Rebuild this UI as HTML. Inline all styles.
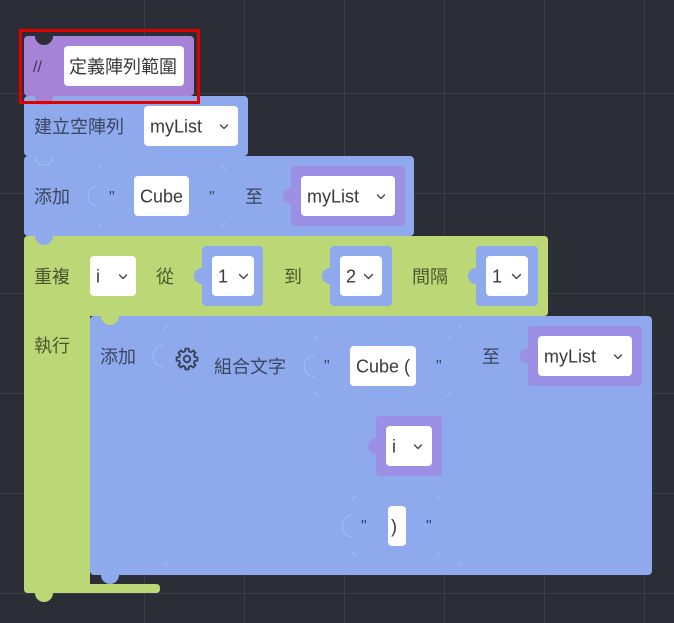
<!DOCTYPE html>
<html><head><meta charset="utf-8">
<style>
html,body{margin:0;padding:0;background:#2b2e36;width:674px;height:623px;overflow:hidden}
svg{display:block}
text{font-family:"Liberation Sans","Noto Sans CJK TC",sans-serif;font-size:18px}
.lb{fill:#000;fill-opacity:0.6}
.ft{fill:#3a3a3a}
.q{font-size:16px;fill:#000;fill-opacity:0.6}
.ch{fill:none;stroke:#444;stroke-width:1.4;stroke-linecap:round;stroke-linejoin:round}
.fo{fill:none;stroke:#fff;stroke-opacity:0.22;stroke-width:1}
</style></head><body>
<svg width="674" height="623" viewBox="0 0 674 623">
<rect width="674" height="623" fill="#2b2e36"/>
<g stroke="#3a3e47" stroke-width="1">
<line x1="144.5" y1="0" x2="144.5" y2="623"/>
<line x1="244.5" y1="0" x2="244.5" y2="623"/>
<line x1="344.5" y1="0" x2="344.5" y2="623"/>
<line x1="444.5" y1="0" x2="444.5" y2="623"/>
<line x1="544.5" y1="0" x2="544.5" y2="623"/>
<line x1="644.5" y1="0" x2="644.5" y2="623"/>
<line x1="0" y1="93.5" x2="674" y2="93.5"/>
<line x1="0" y1="193.5" x2="674" y2="193.5"/>
<line x1="0" y1="293.5" x2="674" y2="293.5"/>
<line x1="0" y1="393.5" x2="674" y2="393.5"/>
<line x1="0" y1="493.5" x2="674" y2="493.5"/>
<line x1="0" y1="593.5" x2="674" y2="593.5"/>
</g>

<!-- Repeat block (green) -->
<path d="M24,240 Q24,236 28,236 H544 Q548,236 548,240 V312 Q548,316 544,316 H90 V584 H156 Q160,584 160,588 V589 Q160,593 156,593 H28 Q24,593 24,589 Z" fill="#bcd775"/>
<path d="M35,593 A9,9 0 0 0 53,593 Z" fill="#bcd775"/>

<!-- inner add block (blue) -->
<rect x="90" y="316" width="562" height="259" rx="4" fill="#8eaaec"/>
<path d="M101,316 A9,9 0 0 0 119,316 Z" fill="#bcd775"/>
<path d="M101,575 A9,9 0 0 0 119,575 Z" fill="#8eaaec"/>

<!-- 添加 block 1 -->
<rect x="24" y="156" width="390" height="80" rx="4" fill="#8eaaec"/>
<path d="M35,236 A9,9 0 0 0 53,236 Z" fill="#8eaaec"/>
<!-- 建立空陣列 -->
<rect x="24" y="96" width="224" height="60" rx="4" fill="#8eaaec"/>
<path d="M35,156 A9,9 0 0 0 53,156" class="fo"/>

<!-- comment block -->
<rect x="24" y="36" width="170" height="60" rx="4" fill="#a584d8"/>
<path d="M35,36 A9,9 0 0 0 53,36 Z" fill="#2b2e36"/>
<path d="M35,96 A9,9 0 0 0 53,96 Z" fill="#a584d8"/>
<text x="33" y="72" class="q" style="font-size:16px">//</text>
<rect x="64" y="46" width="120" height="40" rx="4" fill="#fff"/>
<text x="69" y="73" class="ft">定義陣列範圍</text>
<rect x="20.5" y="30.5" width="178" height="72" fill="none" stroke="#e00000" stroke-width="3"/>

<!-- 建立空陣列 contents -->
<text x="34" y="133" class="lb">建立空陣列</text>
<rect x="144" y="106" width="94" height="40" rx="4" fill="#fff"/>
<text x="150" y="132.5" class="ft">myList</text>
<polyline points="220.5,125 224,128.5 227.5,125" class="ch"/>

<!-- 添加 row 1 -->
<text x="34" y="203" class="lb">添加</text>
<path d="M98,186 A10,10 0 0 0 98,206" class="fo"/>
<path d="M98,170 A4,4 0 0 1 102,166 M221,166 A4,4 0 0 1 225,170 M225,222 A4,4 0 0 1 221,226 M102,226 A4,4 0 0 1 98,222" class="fo"/>
<text x="109" y="202" class="q">"</text>
<rect x="134" y="176" width="55" height="40" rx="4" fill="#fff"/>
<text x="140" y="202.5" class="ft">Cube</text>
<text x="209" y="202" class="q">"</text>
<text x="245" y="203" class="lb">至</text>
<rect x="291" y="166" width="114" height="60" rx="4" fill="#9b8fe6"/>
<path d="M291,188 A8,8 0 0 0 291,204 Z" fill="#9b8fe6"/>
<rect x="301" y="176" width="94" height="40" rx="4" fill="#fff"/>
<text x="307" y="202.5" class="ft">myList</text>
<polyline points="377.5,195 381,198.5 384.5,195" class="ch"/>

<!-- repeat row -->
<text x="34" y="283" class="lb">重複</text>
<rect x="90" y="256" width="46" height="40" rx="4" fill="#fff"/>
<text x="96" y="282.5" class="ft">i</text>
<polyline points="119.5,275 123,278.5 126.5,275" class="ch"/>
<text x="156" y="283" class="lb">從</text>

<rect x="202" y="246" width="61" height="60" rx="4" fill="#8eaaec"/>
<path d="M202,268 A8,8 0 0 0 202,284 Z" fill="#8eaaec"/>
<rect x="212" y="256" width="42" height="40" rx="4" fill="#fff"/>
<text x="218" y="282.5" class="ft">1</text>
<polyline points="239.5,274.5 243.5,278.5 247.5,274.5" class="ch"/>

<text x="284" y="283" class="lb">到</text>
<rect x="330" y="246" width="62" height="60" rx="4" fill="#8eaaec"/>
<path d="M330,268 A8,8 0 0 0 330,284 Z" fill="#8eaaec"/>
<rect x="340" y="256" width="42" height="40" rx="4" fill="#fff"/>
<text x="346" y="282.5" class="ft">2</text>
<polyline points="364.5,274.5 368.5,278.5 372.5,274.5" class="ch"/>

<text x="412" y="283" class="lb">間隔</text>
<rect x="476" y="246" width="62" height="60" rx="4" fill="#8eaaec"/>
<path d="M476,268 A8,8 0 0 0 476,284 Z" fill="#8eaaec"/>
<rect x="486" y="256" width="42" height="40" rx="4" fill="#fff"/>
<text x="492" y="282.5" class="ft">1</text>
<polyline points="512.5,274.5 516.5,278.5 520.5,274.5" class="ch"/>

<text x="34" y="352" class="lb">執行</text>

<!-- inner add contents -->
<text x="100" y="363" class="lb">添加</text>
<path d="M164,345 A10,10 0 0 0 164,367" class="fo"/>
<path d="M164,330 A4,4 0 0 1 168,326 M458,326 A4,4 0 0 1 462,330 M462,562 A4,4 0 0 1 458,566 M168,566 A4,4 0 0 1 164,562" class="fo"/>
<g transform="translate(187,359)" fill="none" stroke="#3a4560" stroke-width="2" stroke-linejoin="round">
<polygon points="7.76,-1.94 10.37,-1.64 10.37,1.64 7.76,1.94 6.86,4.12 8.49,6.17 6.17,8.49 4.12,6.86 1.94,7.76 1.64,10.37 -1.64,10.37 -1.94,7.76 -4.12,6.86 -6.17,8.49 -8.49,6.17 -6.86,4.12 -7.76,1.94 -10.37,1.64 -10.37,-1.64 -7.76,-1.94 -6.86,-4.12 -8.49,-6.17 -6.17,-8.49 -4.12,-6.86 -1.94,-7.76 -1.64,-10.37 1.64,-10.37 1.94,-7.76 4.12,-6.86 6.17,-8.49 8.49,-6.17 6.86,-4.12"/>
<circle r="3.2"/>
</g>
<text x="214" y="373" class="lb">組合文字</text>

<path d="M315,355 A10,10 0 0 0 315,377" class="fo"/>
<path d="M315,340 A4,4 0 0 1 319,336 M446,336 A4,4 0 0 1 450,340 M450,392 A4,4 0 0 1 446,396 M319,396 A4,4 0 0 1 315,392" class="fo"/>
<text x="324" y="371" class="q">"</text>
<rect x="350" y="346" width="66" height="40" rx="4" fill="#fff"/>
<text x="356" y="372.5" class="ft">Cube (</text>
<text x="436" y="371" class="q">"</text>

<text x="482" y="363" class="lb">至</text>
<rect x="528" y="326" width="114" height="60" rx="4" fill="#9b8fe6"/>
<path d="M528,348 A8,8 0 0 0 528,364 Z" fill="#9b8fe6"/>
<rect x="538" y="336" width="94" height="40" rx="4" fill="#fff"/>
<text x="544" y="362.5" class="ft">myList</text>
<polyline points="614.5,355 618,358.5 621.5,355" class="ch"/>

<!-- var i -->
<rect x="376" y="416" width="66" height="60" rx="4" fill="#9b8fe6"/>
<path d="M376,438 A8,8 0 0 0 376,454 Z" fill="#9b8fe6"/>
<rect x="386" y="426" width="46" height="40" rx="4" fill="#fff"/>
<text x="392" y="452.5" class="ft">i</text>
<polyline points="414.5,445 418,448.5 421.5,445" class="ch"/>

<!-- literal ) -->
<path d="M353,515 A10,10 0 0 0 353,537" class="fo"/>
<path d="M353,500 A4,4 0 0 1 357,496 M436,496 A4,4 0 0 1 440,500 M440,552 A4,4 0 0 1 436,556 M357,556 A4,4 0 0 1 353,552" class="fo"/>
<text x="361" y="531" class="q">"</text>
<rect x="388" y="506" width="18" height="40" rx="4" fill="#fff"/>
<text x="391" y="532.5" class="ft">)</text>
<text x="426" y="531" class="q">"</text>
</svg>
</body></html>
